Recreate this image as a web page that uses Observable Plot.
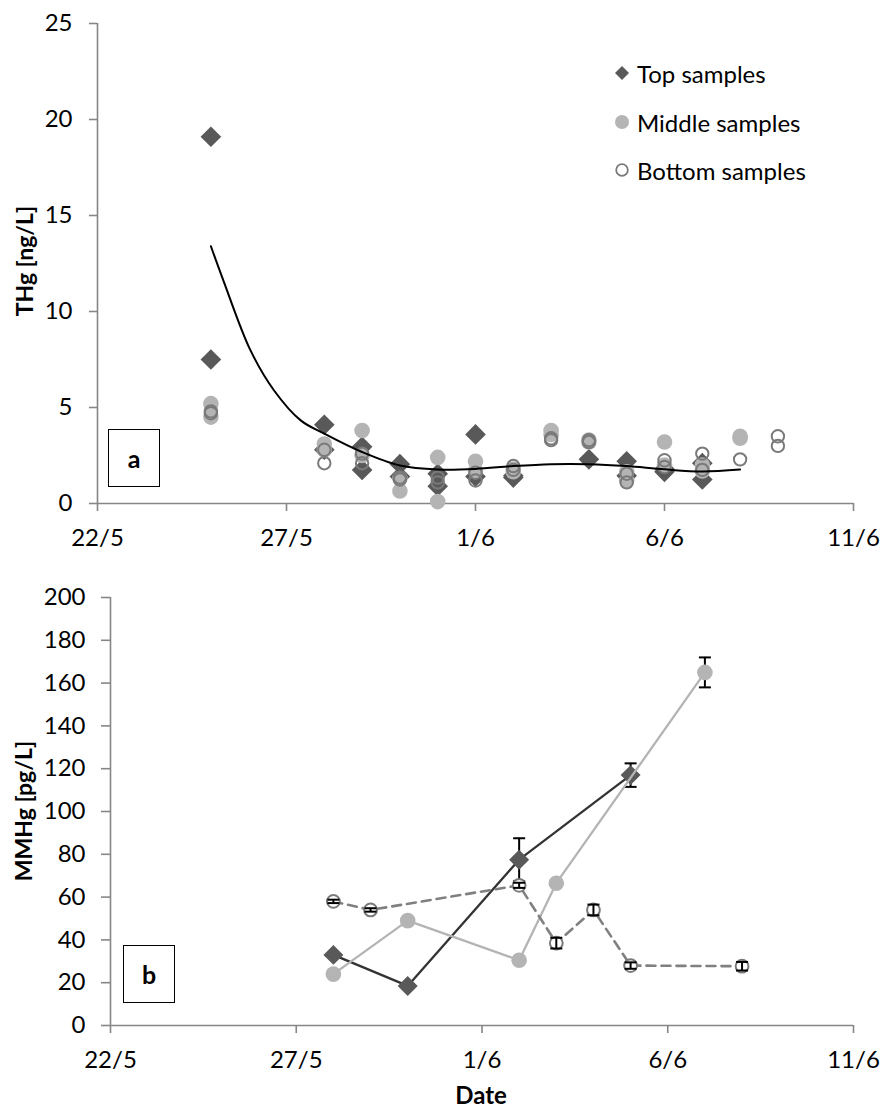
<!DOCTYPE html>
<html><head><meta charset="utf-8">
<script src="https://cdn.jsdelivr.net/npm/d3@7"></script>
<script src="https://cdn.jsdelivr.net/npm/@observablehq/plot@0.6"></script>
<style>
body{margin:0;background:#fff;font-family:Lato,"Open Sans",sans-serif;color:#000;}
#wrap{position:relative;width:883px;height:1111px;overflow:hidden;}
.ytitle{position:absolute;font-weight:bold;font-size:23px;transform:translate(-50%,-50%) rotate(-90deg);white-space:nowrap;}
.xtitle{position:absolute;font-weight:bold;font-size:24px;transform:translate(-50%,-50%);white-space:nowrap;}
.box{position:absolute;border:1.4px solid #000;box-sizing:border-box;font-weight:bold;font-size:25px;display:flex;align-items:center;justify-content:center;background:#fff;}
.leg{position:absolute;display:flex;align-items:center;font-size:24px;white-space:nowrap;height:30px;transform:translateY(-50%);}
.leg svg{margin-right:6px;}
</style></head><body><div id="wrap"></div>
<script>
// ---------- data ----------
const xTickLabels = ["22/5", "27/5", "1/6", "6/6", "11/6"];
const yTicksA = [0, 5, 10, 15, 20, 25];
const yTicksB = [0, 20, 40, 60, 80, 100, 120, 140, 160, 180, 200];
const seriesNames = ["Top samples", "Middle samples", "Bottom samples"];

// Panel a: THg [ng/L], two samples per date and depth
const thgDates  = ["25/5","28/5","29/5","30/5","31/5","1/6","2/6","3/6","4/6","5/6","6/6","7/6","8/6","9/6"];
const thgTop    = [[19.1,7.5],[4.1,2.8],[2.95,1.75],[2.05,1.4],[1.55,0.9],[3.6,1.4],[1.45,1.35],[null,null],[2.3,null],[2.2,1.45],[1.65,1.8],[2.1,1.25],[null,null],[null,null]];
const thgMiddle = [[5.2,4.5],[3.1,2.8],[3.8,2.5],[0.65,1.3],[2.4,0.1],[2.2,1.7],[1.8,1.65],[3.8,3.6],[3.3,3.2],[1.65,1.2],[3.2,2.0],[2.0,1.7],[3.5,3.4],[null,null]];
const thgBottom = [[4.7,4.8],[2.1,2.8],[2.6,2.1],[1.35,1.25],[1.35,1.1],[1.6,1.2],[1.95,1.75],[3.3,3.4],[3.3,3.2],[1.55,1.1],[2.25,1.9],[2.6,1.75],[2.3,null],[3.5,3.0]];
// trend line
const trendTimes  = ["25/5 00:00","25/5 08:00","26/5 01:00","26/5 16:00","27/5 09:00","28/5","29/5","30/5","31/5","1/6","2/6","3/6","4/6","5/6","6/6","7/6","8/6"];
const trendValues = [13.4, 11.6, 8.0, 5.9, 4.33, 3.64, 2.68, 1.98, 1.77, 1.8, 1.95, 2.05, 2.05, 1.95, 1.78, 1.67, 1.77];

// Panel b: MMHg [pg/L] with error (half range)
const mmTopDates = ["28/5","30/5","2/6","5/6"];
const mmTopValues = [33, 18.5, 77.5, 117];
const mmTopErr = [0, 0, 10, 5.5];
const mmMidDates = ["28/5","30/5","2/6","3/6","7/6"];
const mmMidValues = [24, 49, 30.5, 66.5, 165];
const mmMidErr = [0, 0, 0, 0, 7];
const mmBotDates = ["28/5","29/5","2/6","3/6","4/6","5/6","8/6"];
const mmBotValues = [58, 54, 65.5, 38.5, 54, 28, 27.7];
const mmBotErr = [0.8, 0.8, 1.2, 2.5, 2.5, 1.5, 2];

// ---------- helpers ----------
function parseDM(s) {
  const [dm, hm] = s.split(" ");
  const [d, m] = dm.split("/").map(Number);
  const [h, mi] = hm ? hm.split(":").map(Number) : [0, 0];
  return new Date(Date.UTC(2012, m - 1, d, h, mi));
}
function flatPairs(dates, pairs) {
  const out = [];
  dates.forEach((s, i) => pairs[i].forEach(v => { if (v != null) out.push({date: parseDM(s), v}); }));
  return out;
}
function rows(dates, vals, errs) {
  return dates.map((s, i) => ({date: parseDM(s), v: vals[i], e: errs[i]}));
}
const capSymbol = {draw(ctx, size) { const w = Math.sqrt(size / Math.PI); ctx.moveTo(-w, 0); ctx.lineTo(w, 0); }};

const AX = "#868686";
const C_TOP = "#595959", C_MID = "#b4b4b4", C_BOT = "#7a7a7a";
const xTicks = xTickLabels.map(parseDM);
const xDomain = [xTicks[0], xTicks[xTicks.length - 1]];
const fmt = d => xTickLabels[xTicks.findIndex(t => +t === +d)];
const style = {fontFamily: "Lato, 'Open Sans', sans-serif", fontSize: "24px", color: "#000", background: "transparent", overflow: "visible"};

const wrap = document.getElementById("wrap");

// ---------- panel a ----------
const topA = flatPairs(thgDates, thgTop);
const midA = flatPairs(thgDates, thgMiddle);
const botA = flatPairs(thgDates, thgBottom);
const trend = trendTimes.map((s, i) => ({date: parseDM(s), v: trendValues[i]}));

const plotA = Plot.plot({
  width: 883, height: 558,
  marginTop: 23, marginBottom: 55, marginLeft: 97, marginRight: 30,
  style,
  x: {type: "utc", domain: xDomain},
  y: {domain: [0, 25]},
  marks: [
    Plot.ruleY([0], {stroke: AX, strokeWidth: 1.6}),
    Plot.ruleX([xDomain[0]], {stroke: AX, strokeWidth: 1.6}),
    Plot.axisY({ticks: yTicksA, tickSize: 8, tickPadding: 17, stroke: AX, strokeWidth: 1.6, fill: "#000", label: null}),
    Plot.axisX({ticks: xTicks, tickFormat: fmt, tickSize: 8, tickPadding: 17, stroke: AX, strokeWidth: 1.6, fill: "#000", label: null}),
    Plot.dot(topA, {x: "date", y: "v", symbol: "diamond2", r: 9.3, fill: C_TOP, stroke: "none"}),
    Plot.dot(midA, {x: "date", y: "v", symbol: "circle", r: 7.8, fill: C_MID, stroke: "none"}),
    Plot.dot(botA, {x: "date", y: "v", symbol: "circle", r: 6.2, fill: "none", stroke: C_BOT, strokeWidth: 2}),
    Plot.line(trend, {x: "date", y: "v", curve: "catmull-rom", stroke: "#000", strokeWidth: 2})
  ]
});
plotA.style.position = "absolute"; plotA.style.left = "0px"; plotA.style.top = "0px";
wrap.appendChild(plotA);

// ---------- panel b ----------
const topB = rows(mmTopDates, mmTopValues, mmTopErr);
const midB = rows(mmMidDates, mmMidValues, mmMidErr);
const botB = rows(mmBotDates, mmBotValues, mmBotErr);
const errMarks = (data) => {
  const d = data.filter(r => r.e > 0);
  return [
    Plot.ruleX(d, {x: "date", y1: r => r.v - r.e, y2: r => r.v + r.e, stroke: "#000", strokeWidth: 2}),
    Plot.dot(d, {x: "date", y: r => r.v + r.e, symbol: capSymbol, r: 6, stroke: "#000", strokeWidth: 2, fill: "none"}),
    Plot.dot(d, {x: "date", y: r => r.v - r.e, symbol: capSymbol, r: 6, stroke: "#000", strokeWidth: 2, fill: "none"})
  ];
};

const plotB = Plot.plot({
  width: 883, height: 553,
  marginTop: 39, marginBottom: 86, marginLeft: 110, marginRight: 30,
  style,
  x: {type: "utc", domain: xDomain},
  y: {domain: [0, 200]},
  marks: [
    Plot.ruleY([0], {stroke: AX, strokeWidth: 1.6}),
    Plot.ruleX([xDomain[0]], {stroke: AX, strokeWidth: 1.6}),
    Plot.axisY({ticks: yTicksB, tickSize: 9, tickPadding: 16, stroke: AX, strokeWidth: 1.6, fill: "#000", label: null}),
    Plot.axisX({ticks: xTicks, tickFormat: fmt, tickSize: 8, tickPadding: 17, stroke: AX, strokeWidth: 1.6, fill: "#000", label: null}),
    Plot.line(topB, {x: "date", y: "v", stroke: "#333333", strokeWidth: 2.3}),
    ...errMarks(topB),
    Plot.dot(topB, {x: "date", y: "v", symbol: "diamond2", r: 9, fill: C_TOP, stroke: "none"}),
    Plot.line(midB, {x: "date", y: "v", stroke: C_MID, strokeWidth: 2.3}),
    ...errMarks(midB),
    Plot.dot(midB, {x: "date", y: "v", symbol: "circle", r: 7.8, fill: C_MID, stroke: "none"}),
    Plot.line(botB, {x: "date", y: "v", stroke: "#808080", strokeWidth: 2.6, strokeDasharray: "9,6"}),
    Plot.dot(botB, {x: "date", y: "v", symbol: "circle", r: 6.4, fill: "#fff", stroke: C_BOT, strokeWidth: 2}),
    ...errMarks(botB)
  ]
});
plotB.style.position = "absolute"; plotB.style.left = "0px"; plotB.style.top = "558px";
wrap.appendChild(plotB);

// ---------- texts, legend, panel boxes ----------
function addDiv(cls, text, css) {
  const el = document.createElement("div");
  el.className = cls; el.textContent = text;
  Object.assign(el.style, css);
  wrap.appendChild(el);
  return el;
}
addDiv("ytitle", "THg [ng/L]", {left: "24px", top: "261px"});
addDiv("ytitle", "MMHg [pg/L]", {left: "23px", top: "811px"});
addDiv("xtitle", "Date", {left: "481px", top: "1094px"});
addDiv("box", "a", {left: "108px", top: "429px", width: "52px", height: "58px"});
addDiv("box", "b", {left: "123px", top: "945px", width: "52px", height: "58px"});

const legendMarkers = [
  `<svg width="18" height="18" viewBox="-9 -9 18 18"><path d="M0,-7L7,0L0,7L-7,0Z" fill="${C_TOP}"/></svg>`,
  `<svg width="18" height="18" viewBox="-9 -9 18 18"><circle r="7" fill="${C_MID}"/></svg>`,
  `<svg width="18" height="18" viewBox="-9 -9 18 18"><circle r="5.8" fill="none" stroke="${C_BOT}" stroke-width="1.8"/></svg>`
];
const legY = [73, 122, 170];
seriesNames.forEach((name, i) => {
  const el = document.createElement("div");
  el.className = "leg";
  el.style.left = "613px"; el.style.top = legY[i] + "px";
  el.innerHTML = legendMarkers[i] + "<span></span>";
  el.querySelector("span").textContent = name;
  wrap.appendChild(el);
});
</script></body></html>
